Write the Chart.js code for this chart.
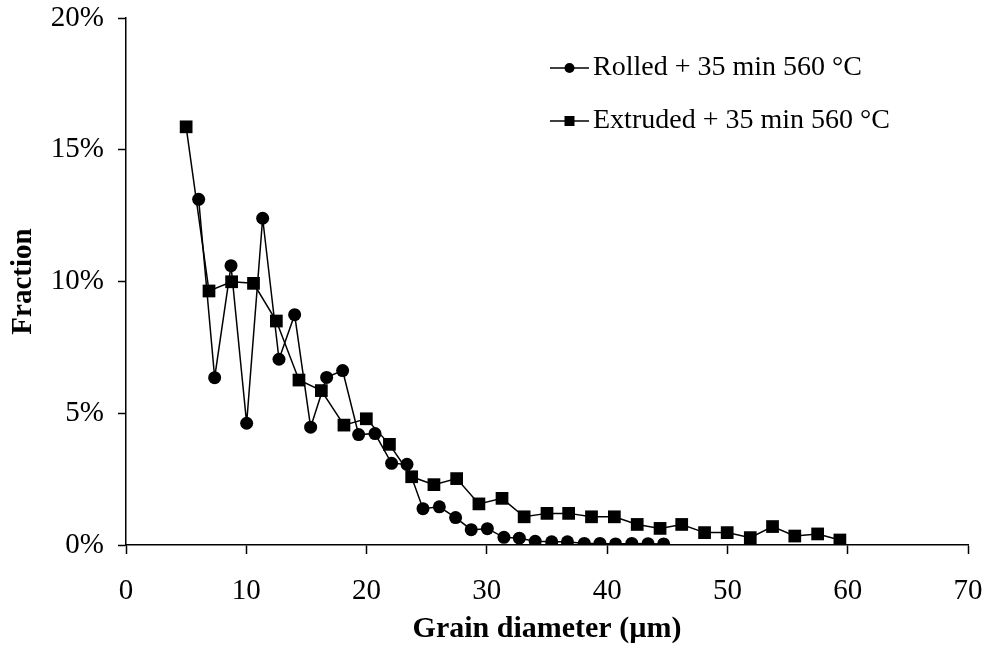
<!DOCTYPE html>
<html>
<head>
<meta charset="utf-8">
<script src="https://cdn.jsdelivr.net/npm/chart.js@4.4.1/dist/chart.umd.min.js"></script>
<style>
html,body{margin:0;padding:0;background:#fff;}
#wrap{width:991px;height:650px;}
</style>
</head>
<body>
<div id="wrap"><canvas id="c" width="991" height="650"></canvas></div>
<script>
const seriesNames = ['Rolled + 35 min 560 °C', 'Extruded + 35 min 560 °C'];
const rolledX = [6.04,7.37,8.73,10.03,11.36,12.72,14.02,15.35,16.68,18.01,19.34,20.7,22.08,23.36,24.69,26.05,27.4,28.7,30.04,31.42,32.7,34.02,35.39,36.7,38.1,39.4,40.7,42.05,43.4,44.7];
const rolledY = [13.12,6.35,10.6,4.62,12.4,7.05,8.74,4.47,6.36,6.62,4.19,4.23,3.1,3.06,1.38,1.45,1.04,0.58,0.62,0.29,0.26,0.14,0.12,0.12,0.06,0.06,0.04,0.06,0.05,0.04];
const extrudedX = [5.0,6.9,8.78,10.6,12.5,14.38,16.24,18.12,19.98,21.9,23.75,25.6,27.49,29.34,31.26,33.1,35.0,36.8,38.7,40.6,42.5,44.4,46.2,48.1,49.98,51.9,53.75,55.6,57.5,59.35];
const extrudedY = [15.87,9.64,9.99,9.93,8.5,6.26,5.86,4.55,4.79,3.82,2.59,2.29,2.52,1.56,1.77,1.07,1.2,1.2,1.07,1.07,0.78,0.63,0.78,0.47,0.47,0.28,0.7,0.34,0.42,0.19];
const xTicks = [0,10,20,30,40,50,60,70];
const yTicks = [0,5,10,15,20];
const xTitle = 'Grain diameter (µm)';
const yTitle = 'Fraction';

const FONT = "'Liberation Serif', 'DejaVu Serif', serif";

function pts(xs, ys){ return xs.map((x,i)=>({x:x, y:ys[i]})); }

const legendPlugin = {
  id: 'innerLegend',
  afterDraw(chart){
    const ctx = chart.ctx;
    const items = [
      {y:68, style:'circle'},
      {y:121, style:'rect'}
    ];
    ctx.save();
    chart.data.datasets.forEach((ds, i) => {
      const it = items[i];
      const x0 = 550, x1 = 589, cx = (x0+x1)/2;
      ctx.strokeStyle = '#000';
      ctx.lineWidth = 1.5;
      ctx.beginPath(); ctx.moveTo(x0, it.y); ctx.lineTo(x1, it.y); ctx.stroke();
      ctx.fillStyle = '#000';
      if (it.style === 'circle') {
        ctx.beginPath(); ctx.arc(cx, it.y, 5, 0, Math.PI*2); ctx.fill();
      } else {
        ctx.fillRect(cx-5, it.y-5, 10, 10);
      }
      ctx.font = "28px " + FONT;
      ctx.textBaseline = 'middle';
      ctx.textAlign = 'left';
      ctx.fillText(ds.label, 593, it.y);
    });
    ctx.restore();
  }
};

new Chart(document.getElementById('c'), {
  type: 'scatter',
  data: {
    datasets: [
      {label: seriesNames[0], data: pts(rolledX, rolledY), showLine: true, borderColor:'#000', backgroundColor:'#000', borderWidth:1.5, pointStyle:'circle', pointRadius:6.5, pointBorderWidth:0, tension:0},
      {label: seriesNames[1], data: pts(extrudedX, extrudedY), showLine: true, borderColor:'#000', backgroundColor:'#000', borderWidth:1.5, pointStyle:'rect', pointRadius:9, pointBorderWidth:0, tension:0}
    ]
  },
  options: {
    responsive:false,
    animation:false,
    layout:{padding:{top:18, right:23, left:0, bottom:0}},
    plugins:{legend:{display:false}, tooltip:{enabled:false}},
    scales:{
      x:{
        type:'linear', min:0, max:70,
        afterBuildTicks(s){ s.ticks = xTicks.map(v=>({value:v})); },
        afterFit(s){ s.height = 105; s.paddingLeft = 0; s.paddingRight = 0; },
        grid:{display:true, drawOnChartArea:false, drawTicks:true, tickLength:9, tickColor:'#000', tickWidth:1.5},
        border:{display:true, color:'#000', width:1.5},
        ticks:{color:'#000', font:{family:FONT, size:29}, padding:20, maxRotation:0, autoSkip:false, callback:v=>String(v)},
        title:{display:true, text:xTitle, color:'#000', font:{family:FONT, size:30, weight:'bold'}, padding:{top:0,bottom:3}}
      },
      y:{
        type:'linear', min:0, max:20,
        afterBuildTicks(s){ s.ticks = yTicks.map(v=>({value:v})); },
        afterFit(s){ s.width = 126; s.paddingTop = 0; s.paddingBottom = 0; },
        grid:{display:true, drawOnChartArea:false, drawTicks:true, tickLength:8, tickColor:'#000', tickWidth:1.5},
        border:{display:true, color:'#000', width:1.5},
        ticks:{color:'#000', font:{family:FONT, size:29}, padding:14, autoSkip:false, callback:v=>v+'%'},
        title:{display:true, text:yTitle, color:'#000', font:{family:FONT, size:29, weight:'bold'}, padding:{top:6,bottom:0}}
      }
    }
  },
  plugins:[legendPlugin]
});
</script>
</body>
</html>
